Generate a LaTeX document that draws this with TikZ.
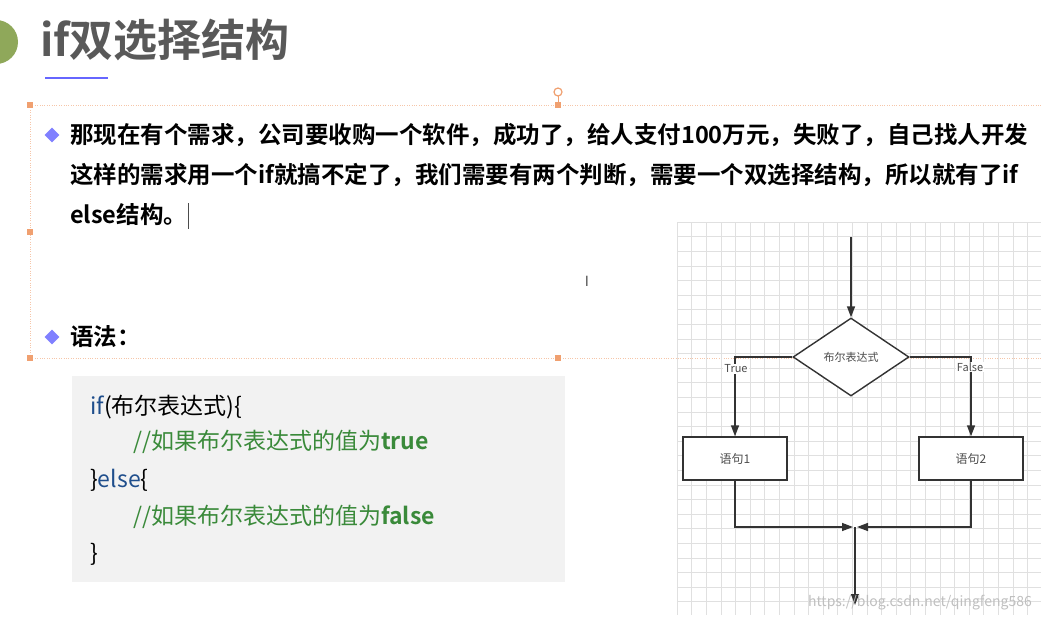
\documentclass[tikz,border=0pt]{standalone}
\usepackage{fontspec}
\setmainfont{Noto Sans CJK SC}[BoldFont=* Bold]
\usetikzlibrary{arrows.meta,shapes.geometric}
\definecolor{hnd}{HTML}{F0A070}
\definecolor{kw}{HTML}{1F4E8C}
\definecolor{cm}{HTML}{3A8A3A}
\definecolor{olv}{HTML}{8FA85A}
\tikzset{
  handle/.style={fill=hnd,minimum size=6pt,inner sep=0pt},
  bul/.style={diamond,fill=blue!50!white,inner sep=0pt,minimum size=15pt},
  body/.style={anchor=west,font=\fontsize{23.5}{24}\selectfont\bfseries,inner sep=0pt},
  code/.style={anchor=west,font=\fontsize{23}{24}\selectfont,inner sep=0pt},
  fl/.style={draw=black!80,line width=1.4pt},
  arr/.style={fl,-{Triangle[length=11pt,width=8pt]}},
  box/.style={draw=black!80,line width=1.4pt,minimum width=104pt,minimum height=43pt,font=\fontsize{12}{12}\selectfont,text=black!70},
  lab/.style={font=\fontsize{11}{12}\selectfont,text=black!70,fill=white,inner sep=1pt}
}
\begin{document}
\begin{tikzpicture}[x=1pt,y=-1pt]
\useasboundingbox (0,0) rectangle (1041,621);
\fill[white] (0,0) rectangle (1041,621);
% title
\fill[olv] (-4,42) circle (22);
\node[anchor=west,font=\fontsize{44}{46}\selectfont\bfseries,text=black!65,inner sep=0pt] (title) at (40,40) {if双选择结构};
\draw[blue!60,line width=2pt] (45,78) -- (108,78);
% selection frame
\draw[hnd!60,dotted] (30,105) -- (1045,105);
\draw[hnd!60,dotted] (30,358) -- (1045,358);
\draw[hnd!60,dotted] (30,105) -- (30,358);
\draw[hnd,line width=0.8pt] (558,105) -- (558,96);
\draw[hnd,line width=1.2pt] (558,92) circle (4);
\foreach \p in {(30,105),(558,105),(30,232),(30,358),(558,358)} \node[handle] at \p {};
% body text
\node[bul] (b1) at (52,135) {};
\node[body] (t1) at (70,135) {那现在有个需求，公司要收购一个软件，成功了，给人支付100万元，失败了，自己找人开发};
\node[body] (t2) at (70,175) {这样的需求用一个if就搞不定了，我们需要有两个判断，需要一个双选择结构，所以就有了if};
\node[body] (t3) at (70,215) {else结构。};
\draw[black!70] (188,203) -- (188,229);
\node[font=\fontsize{14}{14}\selectfont,text=black!70] at (587,281) {I};
\node[bul] (b2) at (52,337) {};
\node[body] (t4) at (70,337) {语法：};
% code block
\fill[black!5] (72,376) rectangle (565,582);
\node[code] at (90,407) {\textcolor{kw}{if}(布尔表达式)\{};
\node[code,text=cm] at (133,442) {//如果布尔表达式的值为\textbf{true}};
\node[code] at (90,480) {\}\textcolor{kw}{else}\{};
\node[code,text=cm] at (133,517) {//如果布尔表达式的值为\textbf{false}};
\node[code] at (90,554) {\}};
% grid
\foreach \i in {0,...,25} \draw[black!12,line width=0.6pt] (677+\i*14.6,222) -- (677+\i*14.6,615);
\foreach \j in {0,...,26} \draw[black!12,line width=0.6pt] (677,222+\j*14.6) -- (1041,222+\j*14.6);
% flowchart
\coordinate (in) at (851,237);
\node[diamond,draw=black!80,line width=1.4pt,fill=white,minimum width=116pt,minimum height=78pt,inner sep=0pt,font=\fontsize{11}{12}\selectfont,text=black!70] (cond) at (851,357) {布尔表达式};
\node[box,fill=white] (s1) at (735,458.5) {语句1};
\node[box,fill=white] (s2) at (971,458.5) {语句2};
\draw[arr] (in) -- (cond.north);
\draw[arr] (cond.west) -- (s1.north |- cond.west) -- (s1.north);
\draw[arr] (cond.east) -- (s2.north |- cond.east) -- (s2.north);
\node[lab] at (736,369) {True};
\node[lab] at (970,367) {False};
\coordinate (m) at (855,527);
\coordinate (out) at (855,605);
\draw[arr] (s1.south) -- (s1.south |- m) -- ([xshift=-2pt]m);
\draw[arr] (s2.south) -- (s2.south |- m) -- ([xshift=2pt]m);
\draw[arr] (m) -- (out);
\node[anchor=east,font=\fontsize{14}{14}\selectfont,text=black!25,inner sep=0pt] at (1032,603) {https://blog.csdn.net/qingfeng586};
\end{tikzpicture}
\end{document}
